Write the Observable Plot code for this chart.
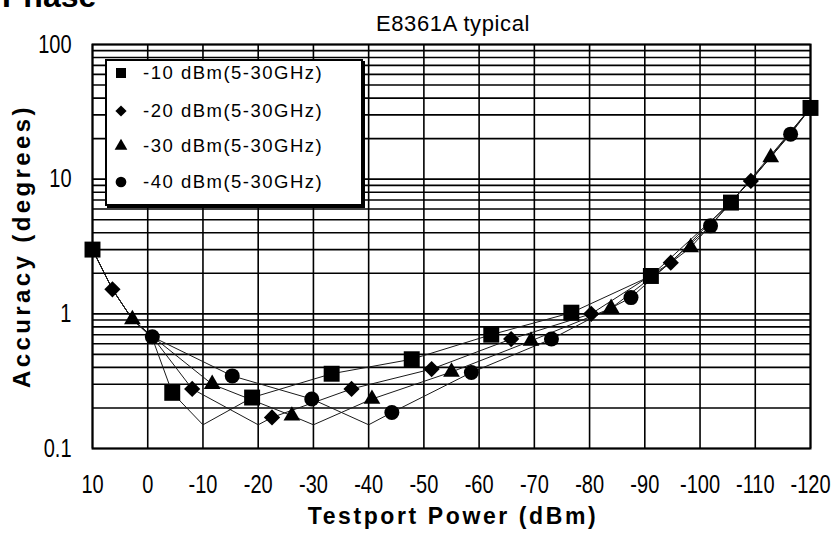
<!DOCTYPE html>
<html><head><meta charset="utf-8">
<script src="https://cdn.jsdelivr.net/npm/d3@7"></script>
<script src="https://cdn.jsdelivr.net/npm/@observablehq/plot@0.6"></script>
<style>
body{margin:0;background:#fff;}
#wrap{position:relative;width:835px;height:533px;overflow:hidden;font-family:"Liberation Sans",Arial,sans-serif;color:#000;}
.ov{position:absolute;line-height:1;white-space:nowrap;}
#title{left:2px;top:-20px;font-size:32px;font-weight:bold;}
#sub{left:92px;width:722px;top:13px;font-size:22px;letter-spacing:0.6px;text-align:center;}
#xlab{left:92px;width:722px;top:505px;font-size:23px;font-weight:bold;letter-spacing:2.6px;text-align:center;}
#ylab{left:22px;top:246px;font-size:24px;font-weight:bold;letter-spacing:3.4px;transform:translate(-50%,-50%) rotate(-90deg);}
#legend{position:absolute;left:105px;top:59px;width:254px;height:143px;background:#fff;border:2px solid #000;box-shadow:2px 2px 0 #000;}
.le{position:absolute;left:0;height:20px;display:flex;align-items:center;font-size:18.5px;letter-spacing:1.5px;}
.le svg{margin-left:6px;margin-right:14px;}
</style></head>
<body>
<div id="wrap">
  <div id="chart"></div>
  <div class="ov" id="title">Phase</div>
  <div class="ov" id="sub">E8361A typical</div>
  <div class="ov" id="xlab">Testport Power (dBm)</div>
  <div class="ov" id="ylab">Accuracy (degrees)</div>
  <div id="legend"></div>
</div>
<script>
// Tick / grid values
const xTicks = [10, 0, -10, -20, -30, -40, -50, -60, -70, -80, -90, -100, -110, -120];
const yTicks = [0.1, 1, 10, 100];
const yGrid = [0.1,0.2,0.3,0.4,0.5,0.6,0.7,0.8,0.9,1,2,3,4,5,6,7,8,9,10,20,30,40,50,60,70,80,90,100];

const seriesNames = ["-10 dBm(5-30GHz)", "-20 dBm(5-30GHz)", "-30 dBm(5-30GHz)", "-40 dBm(5-30GHz)"];
const seriesSymbols = ["square", "diamond2", "triangle", "circle"];

// -10 dBm series (square)
const s10x = [10, 6.39, 2.78, -0.83, -4.44, -10, -18.9, -33.3, -47.8, -62.2, -76.7, -91.1, -105.6, -120];
const s10y = [3.0, 1.52, 0.91, 0.66, 0.259, 0.15, 0.239, 0.359, 0.46, 0.70, 1.02, 1.91, 6.7, 33.8];
const s10m = [1, 0, 0, 0, 1, 0, 1, 1, 1, 1, 1, 1, 1, 1];
// -20 dBm series (diamond)
const s20x = [10, 6.39, 2.78, -0.83, -8.05, -20, -22.5, -36.9, -51.4, -65.8, -80.3, -94.7, -109.2, -120];
const s20y = [3.0, 1.52, 0.91, 0.675, 0.277, 0.15, 0.17, 0.277, 0.389, 0.65, 1.0, 2.40, 9.7, 33.8];
const s20m = [0, 1, 0, 0, 1, 0, 1, 1, 1, 1, 1, 1, 1, 0];
// -30 dBm series (triangle)
const s30x = [10, 6.39, 2.78, -0.83, -11.67, -26.1, -30, -40.6, -55, -69.4, -83.9, -98.3, -112.8, -120];
const s30y = [3.0, 1.52, 0.91, 0.68, 0.30, 0.175, 0.15, 0.233, 0.37, 0.63, 1.1, 3.11, 14.5, 33.8];
const s30m = [0, 0, 1, 0, 1, 1, 0, 1, 1, 1, 1, 1, 1, 0];
// -40 dBm series (circle)
const s40x = [10, 6.39, 2.78, -0.83, -15.3, -29.7, -40, -44.2, -58.6, -73.1, -87.5, -101.9, -116.4, -120];
const s40y = [3.0, 1.52, 0.91, 0.675, 0.346, 0.233, 0.15, 0.185, 0.367, 0.65, 1.32, 4.5, 21.6, 33.8];
const s40m = [0, 0, 0, 1, 1, 1, 0, 1, 1, 1, 1, 1, 1, 0];

const raw = [[s10x, s10y, s10m], [s20x, s20y, s20m], [s30x, s30y, s30m], [s40x, s40y, s40m]];
const series = raw.map(([xs, ys, ms], i) => xs.map((x, j) => ({x, y: ys[j], m: ms[j], s: i})));
const markerR = [9, 7.3, 6.2, 7.5];

const marks = [
  Plot.ruleY(yGrid, {stroke: "#000", strokeWidth: 1.6}),
  Plot.ruleX(xTicks, {stroke: "#000", strokeWidth: 1.6}),
  Plot.frame({stroke: "#000", strokeWidth: 2}),
];
series.forEach((d) => {
  marks.push(Plot.line(d, {x: "x", y: "y", stroke: "#1a1a1a", strokeWidth: 1}));
});
series.forEach((d, i) => {
  marks.push(Plot.dot(d.filter(p => p.m), {x: "x", y: "y", symbol: seriesSymbols[i], r: markerR[i], fill: "#000", stroke: "none"}));
});

const chart = Plot.plot({
  width: 835, height: 533,
  marginLeft: 92, marginRight: 25, marginTop: 44, marginBottom: 85,
  style: {fontFamily: "'Liberation Sans', Arial, sans-serif", fontSize: "25px", color: "#000", background: "transparent", overflow: "visible"},
  x: {domain: [10, -120], ticks: xTicks, tickFormat: d => String(d), tickSize: 0, tickPadding: 27, label: null},
  y: {type: "log", domain: [0.1, 100], ticks: yTicks, tickFormat: d => String(d), tickSize: 0, tickPadding: 21, label: null},
  marks
});
document.getElementById("chart").appendChild(chart);

// Make tick labels tall and narrow like the reference font
d3.select(chart).selectAll('g[aria-label$="tick label"] text').each(function() {
  const t = this.getAttribute("transform");
  if (t) {
    this.setAttribute("transform", t + " scale(0.8,1)");
  } else {
    const x = +this.getAttribute("x") || 0, y = +this.getAttribute("y") || 0;
    this.removeAttribute("x"); this.removeAttribute("y");
    this.setAttribute("transform", `translate(${x},${y}) scale(0.8,1)`);
  }
});

// Legend
const legend = document.getElementById("legend");
const symMap = {square: d3.symbolSquare, diamond2: d3.symbolDiamond2, triangle: d3.symbolTriangle, circle: d3.symbolCircle};
const legendSize = [100, 80, 70, 90];
const legendTop = [2, 40, 75, 111];
seriesNames.forEach((name, i) => {
  const row = document.createElement("div");
  row.className = "le";
  row.style.top = legendTop[i] + "px";
  const svg = d3.create("svg").attr("width", 16).attr("height", 16);
  svg.append("path").attr("transform", "translate(8,8)").attr("d", d3.symbol(symMap[seriesSymbols[i]], legendSize[i])()).attr("fill", "#000");
  row.appendChild(svg.node());
  const t = document.createElement("span");
  t.textContent = name;
  row.appendChild(t);
  legend.appendChild(row);
});
</script>
</body></html>
